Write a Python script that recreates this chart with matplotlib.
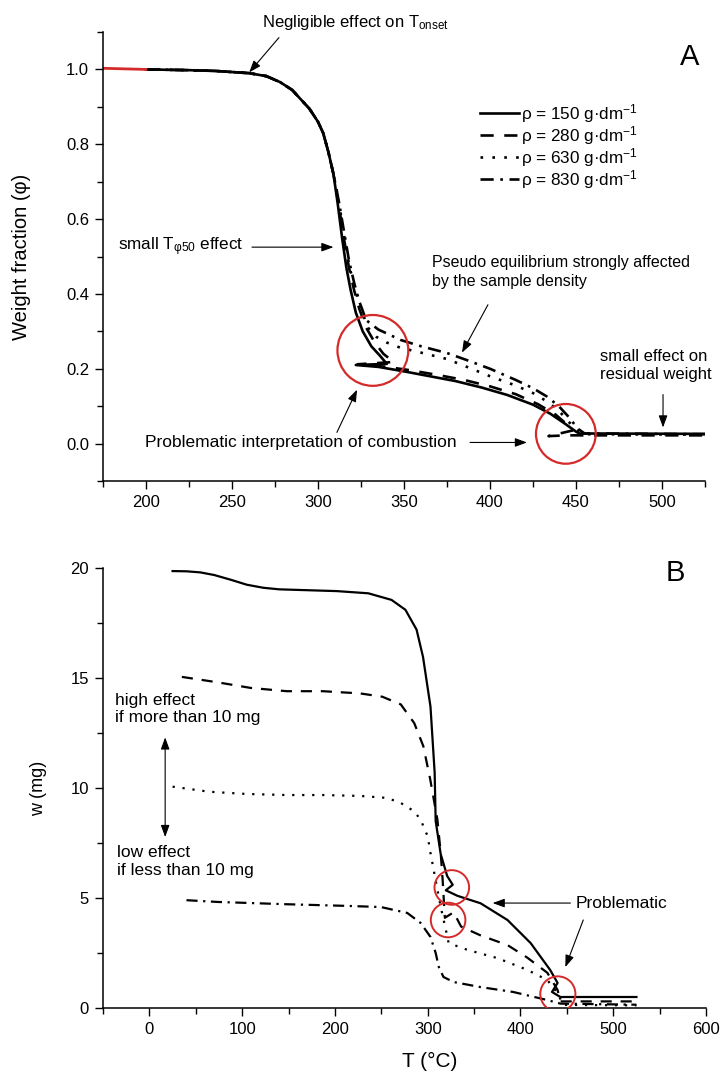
import matplotlib
matplotlib.use("Agg")
import matplotlib.pyplot as plt
from matplotlib.ticker import MultipleLocator, FormatStrFormatter

plt.rcParams["font.family"] = ["Liberation Sans", "DejaVu Sans"]
plt.rcParams["mathtext.default"] = "regular"

# ---- panel A: weight fraction vs temperature, four sample densities ----
densities = [150, 280, 630, 830]

T_a_150 = [200, 225, 240, 250, 260, 270, 278, 285, 290, 295, 300, 303, 306, 309, 311.5, 314, 316.5,
           319, 322, 326, 331, 336, 340, 322, 335, 350, 365, 380, 395, 410, 425, 435, 443, 450, 452, 525]
phi_a_150 = [1.0, 0.998, 0.996, 0.993, 0.99, 0.982, 0.966, 0.945, 0.92, 0.895, 0.86, 0.83, 0.78, 0.72, 0.64,
             0.55, 0.47, 0.41, 0.35, 0.30, 0.26, 0.235, 0.213, 0.21, 0.205, 0.193, 0.18, 0.167, 0.15, 0.13,
             0.104, 0.08, 0.055, 0.032, 0.027, 0.026]

T_a_280 = [200, 225, 240, 250, 260, 270, 278, 285, 290, 295, 300, 303, 306, 309, 312, 315, 318, 321, 324,
           328, 333, 338, 344, 323, 340, 355, 370, 385, 400, 415, 428, 438, 445, 448, 434, 445, 525]
phi_a_280 = [1.0, 0.998, 0.996, 0.993, 0.99, 0.982, 0.966, 0.945, 0.92, 0.895, 0.86, 0.83, 0.78, 0.72, 0.64,
             0.55, 0.47, 0.41, 0.36, 0.31, 0.27, 0.24, 0.218, 0.212, 0.205, 0.195, 0.183, 0.17, 0.153,
             0.132, 0.105, 0.078, 0.05, 0.035, 0.02, 0.022, 0.022]

T_a_630 = [200, 225, 240, 250, 260, 270, 278, 285, 290, 295, 300, 303, 306, 309, 312, 315, 318, 321, 325,
           329, 334, 340, 348, 360, 375, 386, 400, 415, 425, 433, 440, 445, 450, 455, 525]
phi_a_630 = [1.0, 0.998, 0.996, 0.993, 0.99, 0.982, 0.966, 0.945, 0.92, 0.895, 0.86, 0.83, 0.78, 0.72, 0.65,
             0.56, 0.48, 0.42, 0.36, 0.31, 0.285, 0.27, 0.256, 0.243, 0.226, 0.206, 0.18, 0.155, 0.135,
             0.113, 0.088, 0.062, 0.037, 0.025, 0.024]

T_a_830 = [200, 225, 240, 250, 260, 270, 278, 285, 290, 295, 300, 303, 306, 309, 312, 315, 318, 321, 324,
           328, 335, 342, 348, 360, 375, 386, 400, 415, 425, 433, 440, 446, 451, 455, 525]
phi_a_830 = [1.0, 0.998, 0.996, 0.993, 0.99, 0.982, 0.966, 0.945, 0.92, 0.895, 0.86, 0.83, 0.78, 0.72, 0.65,
             0.57, 0.49, 0.43, 0.38, 0.33, 0.305, 0.29, 0.277, 0.26, 0.242, 0.224, 0.2, 0.17, 0.148, 0.126,
             0.1, 0.07, 0.04, 0.027, 0.025]

# red start segment of the trace
T_a_red = [175, 200]
phi_a_red = [1.003, 1.0]

# red circles (centres) in panel A
circ_a_T = [331.9, 444.1]
circ_a_phi = [0.249, 0.026]

# ---- panel B: sample mass vs temperature ----
T_b_150 = [25, 40, 55, 70, 89, 105, 123, 140, 163, 202, 236, 261, 276, 288, 295, 303, 307.5, 308.6, 314,
           321, 327, 319.5, 332, 357, 386, 411, 432, 440, 434, 443, 525]
w_b_150 = [19.86, 19.85, 19.8, 19.68, 19.45, 19.24, 19.1, 19.03, 19.0, 18.95, 18.85, 18.55, 18.1, 17.2,
           15.95, 13.7, 10.7, 8.5, 7.0, 6.0, 5.6, 5.35, 5.1, 4.76, 4.0, 2.95, 1.73, 1.14, 0.73, 0.5, 0.5]

T_b_280 = [35, 74, 109, 148, 187, 227, 251, 271, 285.5, 295.3, 302.7, 310.5, 314, 316, 318.5, 328, 336,
           357, 386, 407, 429, 440, 443, 525]
w_b_280 = [15.05, 14.8, 14.55, 14.4, 14.4, 14.3, 14.15, 13.8, 12.95, 11.9, 10.4, 8.55, 7.05, 5.9, 4.1, 4.35,
           3.7, 3.3, 2.86, 2.3, 1.6, 0.82, 0.3, 0.3]

T_b_630 = [25, 64.5, 104, 148, 187, 227, 256, 271, 285.5, 292.5, 300, 303, 308.6, 314, 319.6, 322.6, 343,
           375, 407.5, 429, 440, 446, 525]
w_b_630 = [10.06, 9.83, 9.73, 9.68, 9.68, 9.64, 9.55, 9.32, 8.94, 8.55, 7.8, 7.05, 5.8, 4.6, 3.55, 2.95,
           2.64, 2.27, 1.73, 1.27, 0.68, 0.14, 0.12]

T_b_830 = [40, 74, 110, 145, 214, 249.5, 278, 292.5, 303, 308.6, 312, 317, 328, 357, 392, 429, 443, 525]
w_b_830 = [4.9, 4.82, 4.77, 4.72, 4.64, 4.59, 4.32, 3.86, 3.23, 2.5, 1.86, 1.41, 1.18, 0.95, 0.73, 0.36,
           0.2, 0.15]

circ_b_T = [326, 322, 440.3]
circ_b_w = [5.48, 4.0, 0.64]

RED = "#d42a2a"
styles = ["-", (0, (5, 4)), (0, (1, 3.5)), (0, (5, 2.5, 1, 2.5))]
labels = [f"ρ = {d} g·dm$^{{-1}}$" for d in densities]
arrow = dict(arrowstyle="-|>,head_length=0.6,head_width=0.22", lw=0.8, color="k",
             mutation_scale=12, shrinkA=0, shrinkB=0)


def style_axes(ax):
    ax.spines["top"].set_visible(False)
    ax.spines["right"].set_visible(False)
    for s in ("left", "bottom"):
        ax.spines[s].set_linewidth(1.1)
    ax.tick_params(which="major", direction="out", length=6, width=1.0, labelsize=12, pad=4)
    ax.tick_params(which="minor", direction="out", length=4, width=1.0)


fig = plt.figure(figsize=(7.25, 10.75), dpi=100)
ax_a = fig.add_axes([103 / 725, 1 - 481 / 1075, 602 / 725, 449 / 1075])
ax_b = fig.add_axes([103 / 725, 1 - 1008 / 1075, 603 / 725, 440 / 1075])

# panel A
series_a = [(T_a_150, phi_a_150), (T_a_280, phi_a_280), (T_a_630, phi_a_630), (T_a_830, phi_a_830)]
for (t, p), ls, lab in zip(series_a, styles, labels):
    ax_a.plot(t, p, color="k", lw=1.9, linestyle=ls, label=lab)
ax_a.plot(T_a_red, phi_a_red, color=RED, lw=2.0)
ax_a.scatter(circ_a_T, circ_a_phi, s=[2600, 1850], facecolors="none", edgecolors=RED,
             linewidths=1.6, zorder=5, clip_on=False)

ax_a.set_xlim(175, 525)
ax_a.xaxis.set_major_locator(MultipleLocator(50))
ax_a.xaxis.set_minor_locator(MultipleLocator(25))
ax_a.yaxis.set_major_locator(MultipleLocator(0.2))
ax_a.yaxis.set_minor_locator(MultipleLocator(0.1))
ax_a.yaxis.set_major_formatter(FormatStrFormatter("%.1f"))
ax_a.set_ylim(-0.1, 1.1)
style_axes(ax_a)
ax_a.set_ylabel("Weight fraction (φ)", fontsize=14.5)
ax_a.yaxis.set_label_coords(-0.12, 0.5)

ax_a.legend(loc="upper left", bbox_to_anchor=(0.615, 0.86), frameon=False, fontsize=12.3,
            handlelength=2.3, handletextpad=0.1, labelspacing=-0.05, borderaxespad=0)

ax_a.text(321.5, 1.125, "Negligible effect on T$_{onset}$", fontsize=12, ha="center", va="center",
          clip_on=False)
ax_a.annotate("", xy=(260, 0.992), xytext=(277.3, 1.085), arrowprops=arrow, annotation_clip=False)

ax_a.text(183.7, 0.525, "small T$_{φ50}$ effect", fontsize=12.3, ha="left", va="center")
ax_a.annotate("", xy=(309, 0.525), xytext=(261.6, 0.525), arrowprops=arrow)

ax_a.text(366.3, 0.459, "Pseudo equilibrium strongly affected\nby the sample density", fontsize=11.5,
          ha="left", va="center", linespacing=1.3)
ax_a.annotate("", xy=(383.7, 0.243), xytext=(398.8, 0.371), arrowprops=arrow)

ax_a.text(464, 0.208, "small effect on\nresidual weight", fontsize=12, ha="left", va="center",
          linespacing=1.25)
ax_a.annotate("", xy=(500.6, 0.043), xytext=(500.6, 0.131), arrowprops=arrow)

ax_a.text(199.4, 0.003, "Problematic interpretation of combustion", fontsize=12.5, ha="left", va="center")
ax_a.annotate("", xy=(421.5, 0.003), xytext=(388.4, 0.003), arrowprops=arrow)
ax_a.annotate("", xy=(322.7, 0.144), xytext=(311, 0.03), arrowprops=arrow)

fig.text(690 / 725, 1 - 57 / 1075, "A", fontsize=21, ha="center", va="center")

# panel B
series_b = [(T_b_150, w_b_150), (T_b_280, w_b_280), (T_b_630, w_b_630), (T_b_830, w_b_830)]
for (t, w), ls in zip(series_b, styles):
    ax_b.plot(t, w, color="k", lw=1.6, linestyle=ls)
ax_b.scatter(circ_b_T, circ_b_w, s=[620, 620, 640], facecolors="none", edgecolors=RED,
             linewidths=1.4, zorder=5)

ax_b.set_xlim(-50, 600)
ax_b.set_ylim(0, 20)
ax_b.xaxis.set_major_locator(MultipleLocator(100))
ax_b.xaxis.set_minor_locator(MultipleLocator(50))
ax_b.yaxis.set_major_locator(MultipleLocator(5))
ax_b.yaxis.set_minor_locator(MultipleLocator(2.5))
style_axes(ax_b)
ax_b.set_ylabel("w (mg)", fontsize=13)
ax_b.yaxis.set_label_coords(-0.093, 0.5)
ax_b.set_xlabel("T (°C)", fontsize=15)
ax_b.xaxis.set_label_coords(0.542, -0.1)

ax_b.text(-36.6, 13.6, "high effect\nif more than 10 mg", fontsize=12.5, ha="left",
          va="center", linespacing=1.2)
ax_b.text(-34.4, 6.66, "low effect\nif less than 10 mg", fontsize=12.5, ha="left",
          va="center", linespacing=1.2)
ax_b.annotate("", xy=(17, 12.3), xytext=(17, 7.77),
              arrowprops=dict(arrow, arrowstyle="<|-|>,head_length=0.6,head_width=0.22"))

ax_b.text(459, 4.77, "Problematic", fontsize=12.5, ha="left", va="center")
ax_b.annotate("", xy=(370, 4.77), xytext=(453.8, 4.77), arrowprops=arrow)
ax_b.annotate("", xy=(448.4, 1.86), xytext=(467.7, 4.0), arrowprops=arrow)

fig.text(675 / 725, 1 - 573 / 1075, "B", fontsize=21, ha="center", va="center")

fig.savefig("out.png", dpi=100)
plt.close(fig)
